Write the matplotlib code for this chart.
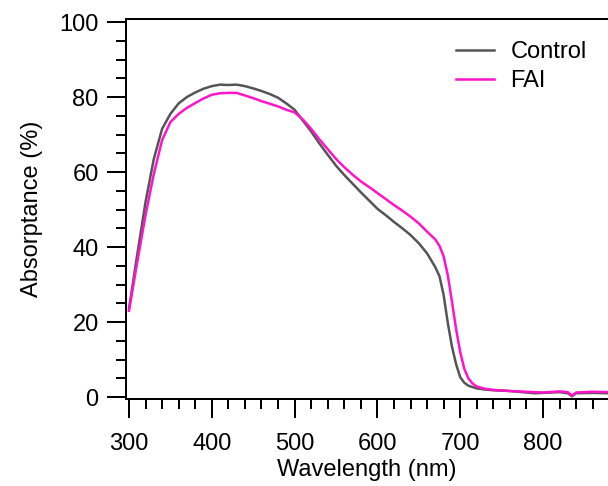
import matplotlib
matplotlib.use("Agg")
import matplotlib.pyplot as plt
from matplotlib.ticker import MultipleLocator

plt.rcParams["font.family"] = ["Liberation Sans", "DejaVu Sans"]

# wavelength (nm) and absorptance (%)
wl_control = [300, 310, 320, 330, 340, 350, 360, 370, 380, 390, 400, 410, 420, 430, 440,
              450, 460, 470, 480, 490, 500, 510, 520, 530, 540, 550, 560, 570, 580, 590,
              600, 610, 620, 630, 640, 650, 660, 670, 675, 680, 685, 690, 695, 700, 705,
              710, 720, 730, 740, 760, 780, 790, 800, 820, 830, 835, 840, 860, 880]
abs_control = [23.5, 38, 52, 63.5, 71.5, 75.5, 78.3, 80, 81.2, 82.2, 82.9, 83.3, 83.2, 83.3, 82.9,
               82.3, 81.6, 80.8, 79.8, 78.3, 76.6, 73.7, 70.8, 67.6, 64.6, 61.7, 59.2, 56.9, 54.6, 52.4,
               50.2, 48.5, 46.7, 45.0, 43.2, 41.0, 38.3, 34.6, 32.2, 27.2, 19.8, 13.5, 8.8, 5.3, 3.8,
               3.0, 2.3, 2.0, 1.8, 1.6, 1.2, 1.0, 1.1, 1.3, 1.0, 0.2, 1.0, 1.1, 1.0]

wl_fai = [300, 310, 320, 330, 340, 350, 360, 370, 380, 390, 400, 410, 420, 430, 440,
          450, 460, 470, 480, 490, 500, 510, 520, 530, 540, 550, 560, 570, 580, 590,
          600, 610, 620, 630, 640, 650, 660, 670, 675, 680, 685, 690, 695, 700, 705,
          710, 715, 720, 730, 740, 760, 780, 800, 820, 830, 835, 840, 860, 880]
abs_fai = [23, 36, 48.5, 59.5, 68.5, 73.3, 75.5, 77.1, 78.4, 79.6, 80.6, 81, 81.1, 81.1, 80.4,
           79.7, 78.9, 78.2, 77.5, 76.6, 75.9, 74.0, 71.5, 68.7, 66.1, 63.5, 61.3, 59.3, 57.5, 56.0,
           54.4, 52.8, 51.2, 49.7, 48.1, 46.3, 44.1, 42.0, 40.3, 37.5, 32.5, 25.5, 18.2, 12, 7.5,
           4.9, 3.6, 2.8, 2.2, 1.9, 1.6, 1.4, 1.2, 1.5, 1.3, 0.4, 1.2, 1.4, 1.3]

fig = plt.figure(figsize=(6.08, 4.86), dpi=100)
ax = fig.add_axes([126 / 608, (486 - 399) / 486, (608 - 126) / 608, (399 - 19) / 486])

ax.plot(wl_control, abs_control, color="#555555", lw=1.8, label="Control")
ax.plot(wl_fai, abs_fai, color="#ff14c8", lw=1.8, label="FAI")

ax.set_xlim(296.4, 878.5)
ax.set_ylim(-0.53, 100.8)
ax.xaxis.set_major_locator(MultipleLocator(100))
ax.xaxis.set_minor_locator(MultipleLocator(20))
ax.yaxis.set_major_locator(MultipleLocator(20))
ax.yaxis.set_minor_locator(MultipleLocator(5))

ax.spines["right"].set_visible(False)
for s in ["left", "bottom", "top"]:
    ax.spines[s].set_linewidth(1.44)
ax.tick_params(which="major", direction="out", length=13.7, width=1.44, labelsize=17)
ax.tick_params(which="minor", direction="out", length=7.2, width=1.44)
ax.tick_params(axis="y", pad=6)
ax.tick_params(axis="x", pad=10.5)

ax.set_xlabel("Wavelength (nm)", fontsize=17, labelpad=3)
ax.set_ylabel("Absorptance (%)", fontsize=17, labelpad=12)

ax.legend(loc="upper left", bbox_to_anchor=(456 / 608, 1 - 41 / 486),
          bbox_transform=fig.transFigure, frameon=False, fontsize=17,
          handlelength=1.6, handletextpad=0.7, labelspacing=0.3,
          borderpad=0, borderaxespad=0)

fig.savefig("out.png", dpi=100)
